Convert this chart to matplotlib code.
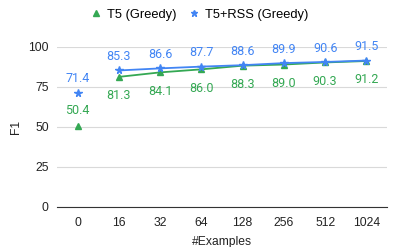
import matplotlib.pyplot as plt
import numpy as np

examples = ["0", "16", "32", "64", "128", "256", "512", "1024"]
t5_greedy = [50.4, 81.3, 84.1, 86.0, 88.3, 89.0, 90.3, 91.2]
t5_rss_greedy = [71.4, 85.3, 86.6, 87.7, 88.6, 89.9, 90.6, 91.5]
y_ticks = [0, 25, 50, 75, 100]

GREEN = "#34a853"
BLUE = "#4285f4"

plt.rcParams["font.family"] = ["Liberation Sans", "DejaVu Sans"]

fig = plt.figure(figsize=(3.99, 2.47), dpi=100)
ax = fig.add_axes([0.143, 0.162, 0.827, 0.648])

x = np.arange(len(examples))

# first point (0 examples) is not joined to the rest
ax.plot(x[1:], t5_greedy[1:], color=GREEN, lw=1.3, zorder=3)
ax.plot(x[1:], t5_rss_greedy[1:], color=BLUE, lw=1.3, zorder=3)
ax.plot(x, t5_greedy, ls="none", marker="^", ms=5, color=GREEN, zorder=4,
        label="T5 (Greedy)")
ax.plot(x, t5_rss_greedy, ls="none", marker="*", ms=5.5, color=BLUE, zorder=4,
        label="T5+RSS (Greedy)")

for i, (g, b) in enumerate(zip(t5_greedy, t5_rss_greedy)):
    ax.annotate(f"{b:.1f}", (i, b), xytext=(0, 10), textcoords="offset points",
                ha="center", va="center", color=BLUE, fontsize=9,
                family="Roboto")
    dy = 11.5 if i == 0 else -13.5
    ax.annotate(f"{g:.1f}", (i, g), xytext=(0, dy), textcoords="offset points",
                ha="center", va="center", color=GREEN, fontsize=9,
                family="Roboto")

ax.set_xlim(-0.5, len(examples) - 0.5)
ax.set_ylim(0, 100)
ax.set_xticks(x)
ax.set_xticklabels(examples)
ax.set_yticks(y_ticks)
ax.tick_params(length=0, labelsize=8.7, colors="#222222")
ax.tick_params(axis="x", pad=7)
ax.tick_params(axis="y", pad=6)
ax.yaxis.grid(True, color="#d9d9d9", lw=0.8)
ax.set_axisbelow(True)
for s in ["top", "right", "left"]:
    ax.spines[s].set_visible(False)
ax.spines["bottom"].set_color("#333333")
ax.spines["bottom"].set_linewidth(0.8)

ax.set_xlabel("#Examples", fontsize=8.7, color="#222222", labelpad=5)
fig.text(0.04, 0.486, "F1", rotation=90, ha="center", va="center",
         fontsize=8.7, color="#222222")

fig.legend(loc="center", bbox_to_anchor=(0.5, 0.94), ncol=2, frameon=False,
           fontsize=9.3, handlelength=0.8, handletextpad=0.4, columnspacing=1.0,
           markerscale=0.85)

fig.savefig("out.png", dpi=100)
